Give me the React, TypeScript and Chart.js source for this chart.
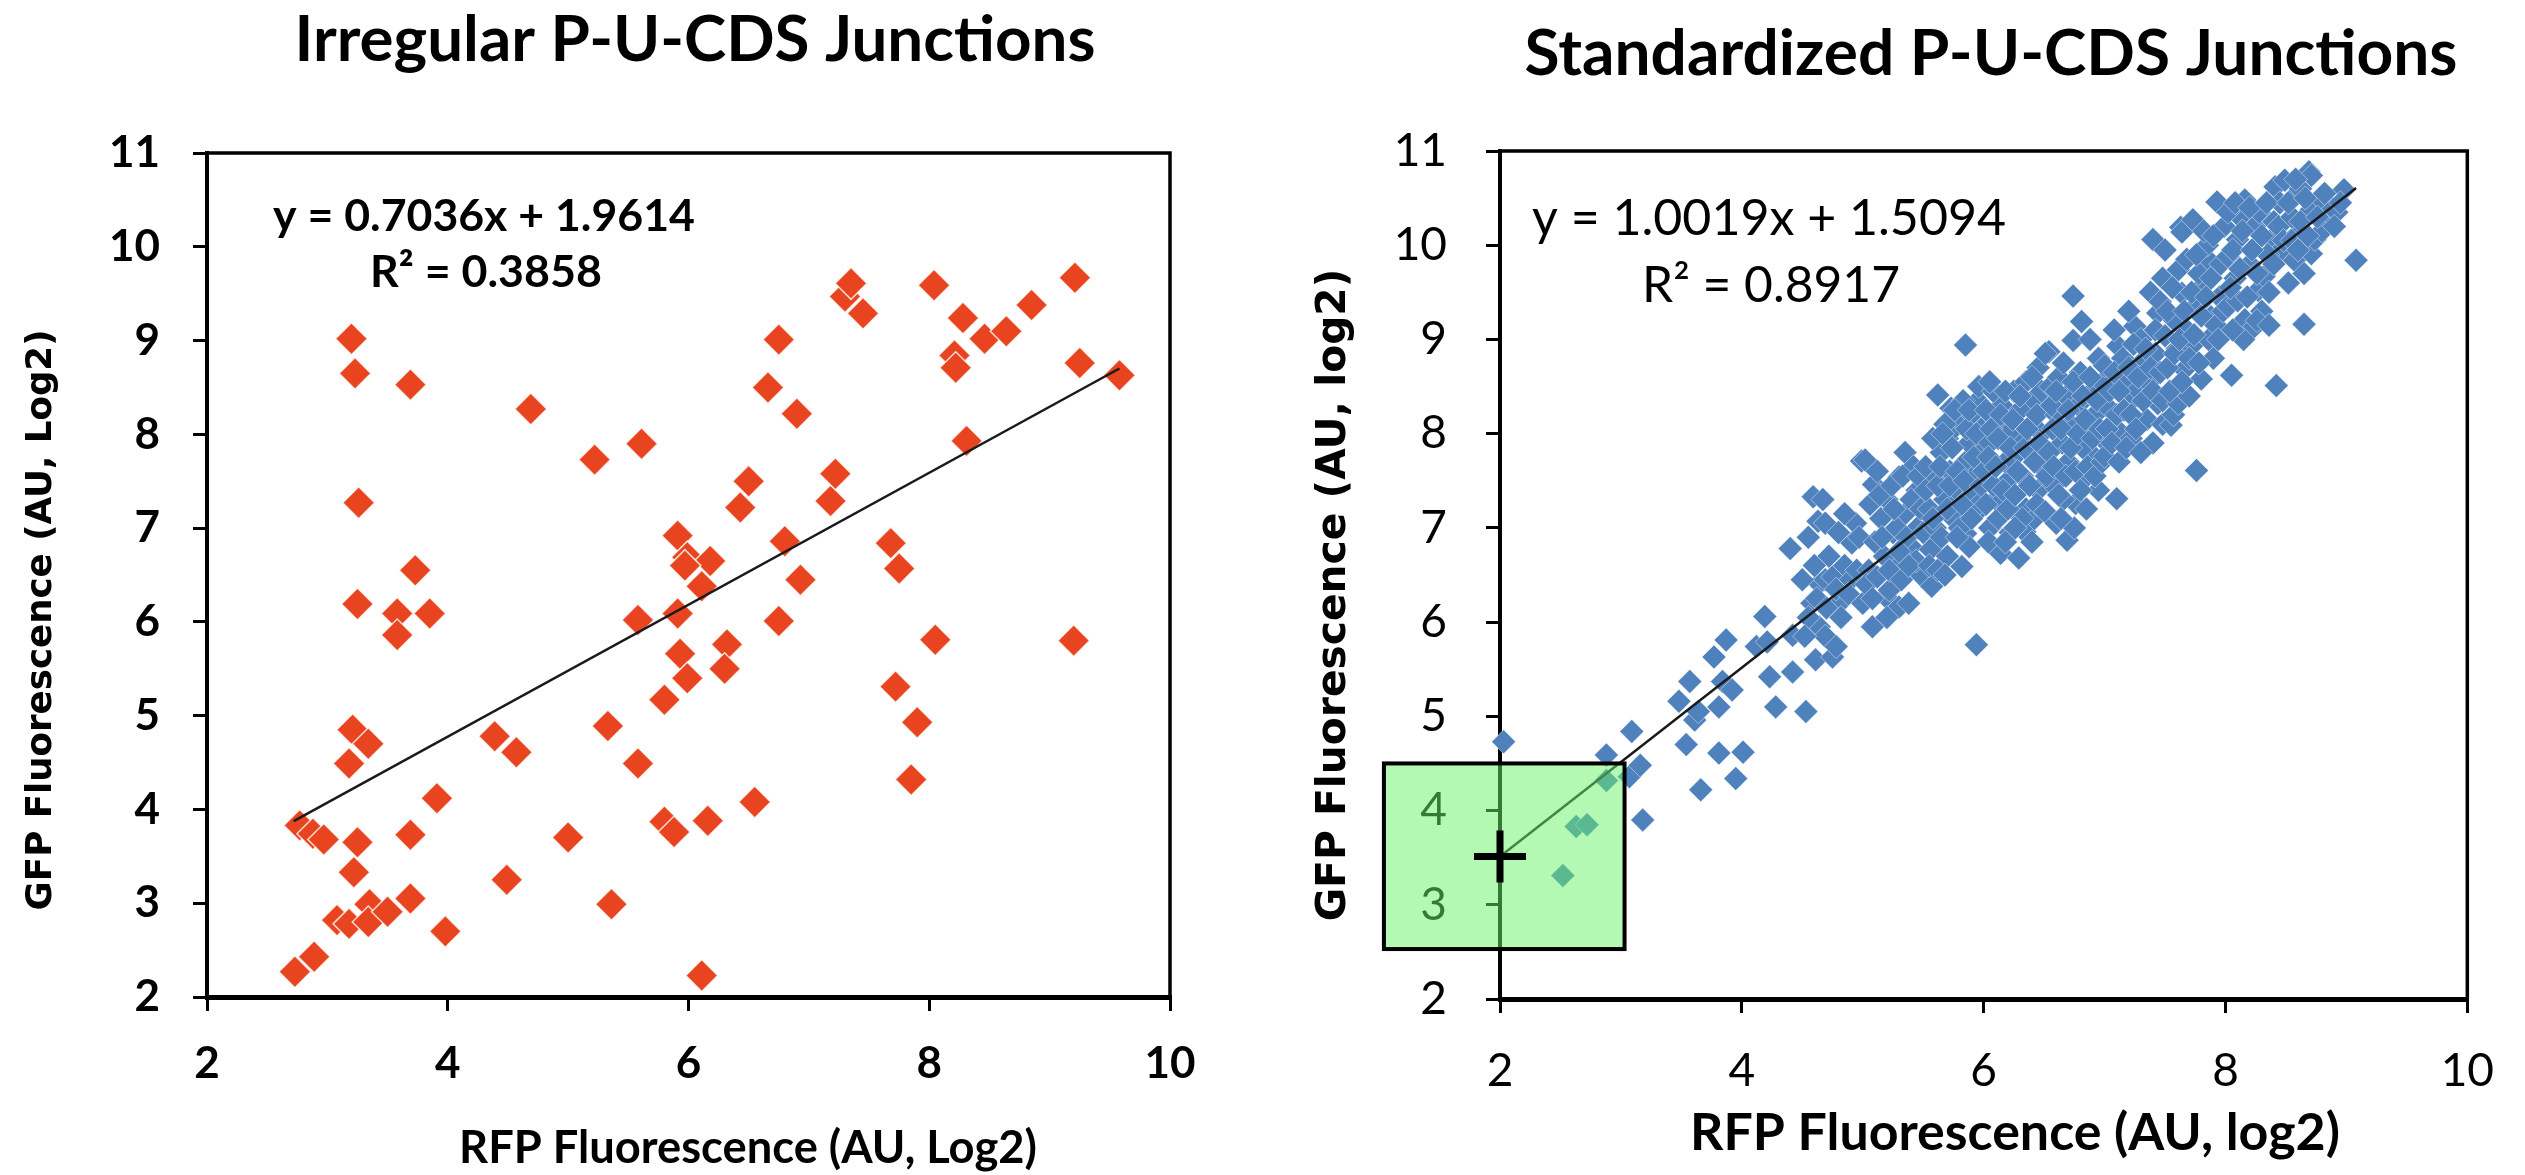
import { useEffect, useRef } from "react";
import { Chart, registerables } from "chart.js";

Chart.register(...registerables);

// ---------------- DATA ----------------
const xTickValues = [2, 4, 6, 8, 10];
const yTickValues = [2, 3, 4, 5, 6, 7, 8, 9, 10, 11];

const leftTitle = "Irregular P-U-CDS Junctions";
const rightTitle = "Standardized P-U-CDS Junctions";
const leftXTitle = "RFP Fluorescence (AU, Log2)";
const leftYTitle = "GFP Fluorescence (AU, Log2)";
const rightXTitle = "RFP Fluorescence (AU, log2)";
const rightYTitle = "GFP Fluorescence (AU, log2)";

const irregularSlope = 0.7036;
const irregularIntercept = 1.9614;
const irregularR2 = 0.3858;
const irregularFitRange = [2.72, 9.58];

const standardizedSlope = 1.0019;
const standardizedIntercept = 1.5094;
const standardizedR2 = 0.8917;
const standardizedFitRange = [2.0, 9.08];
const markerX = 2;
const highlightX = [1.04, 3.03];
const highlightY = [2.53, 4.5];

const irregularPoints: [number, number][] = [
  [3.20, 9.02], [3.23, 8.65], [3.69, 8.53], [4.69, 8.27], [5.22, 7.73], [5.61, 7.90], [3.26, 7.27],
  [5.91, 6.92], [5.99, 6.69], [6.18, 6.65], [5.97, 6.60], [6.11, 6.38], [6.43, 7.22], [6.50, 7.50],
  [6.66, 8.50], [6.75, 9.01], [6.90, 8.22], [6.80, 6.86], [6.93, 6.45], [7.18, 7.29], [7.22, 7.58],
  [7.30, 9.47], [7.35, 9.61], [7.45, 9.29], [7.68, 6.84], [7.75, 6.57], [8.04, 9.59], [8.21, 8.84],
  [8.22, 8.71], [8.28, 9.24], [8.31, 7.93], [8.46, 9.02], [8.64, 9.10], [8.85, 9.38], [9.21, 9.67],
  [9.25, 8.76], [9.58, 8.63],
  [3.73, 6.55], [3.25, 6.19], [3.58, 6.09], [3.58, 5.86], [3.85, 6.09], [5.58, 6.02], [5.91, 6.09],
  [6.75, 6.01], [5.93, 5.66], [5.99, 5.40], [6.32, 5.76], [6.30, 5.50], [8.05, 5.81], [9.20, 5.80],
  [5.80, 5.17], [7.72, 5.31], [7.90, 4.93], [5.33, 4.89], [5.58, 4.49], [4.39, 4.78], [4.57, 4.61],
  [3.21, 4.85], [3.34, 4.70], [3.18, 4.49], [7.85, 4.32], [3.91, 4.12], [6.55, 4.08], [6.16, 3.88],
  [5.80, 3.87], [5.88, 3.76], [2.77, 3.83], [2.88, 3.74], [2.97, 3.68], [3.25, 3.65], [3.69, 3.73],
  [5.00, 3.70], [3.22, 3.33], [4.49, 3.25], [3.69, 3.05], [5.36, 2.99], [3.35, 2.99], [3.08, 2.82],
  [3.18, 2.78], [3.34, 2.80], [3.50, 2.91], [3.98, 2.70], [2.89, 2.43], [2.73, 2.27], [6.11, 2.23],
];

const standardizedPoints: [number, number][] = [
  // x 2 - 3.2
  [2.03, 4.73], [2.52, 3.31], [2.63, 3.83], [2.72, 3.85], [2.88, 4.32], [2.88, 4.59], [3.07, 4.36],
  [3.09, 4.84], [3.16, 4.48], [3.18, 3.90],
  // x 3.4 - 4.1
  [3.48, 5.16], [3.54, 4.70], [3.57, 5.37], [3.61, 4.96], [3.64, 5.05], [3.66, 4.22], [3.77, 5.63],
  [3.81, 4.61], [3.81, 5.10], [3.84, 5.37], [3.87, 5.81], [3.92, 5.28], [3.95, 4.34], [4.01, 4.62],
  // x 4.1 - 5
  [4.12, 5.74], [4.19, 6.06], [4.21, 5.79], [4.23, 5.42], [4.28, 5.10], [4.42, 5.47], [4.42, 5.86],
  [4.53, 5.05], [4.61, 5.60], [4.64, 5.95], [4.69, 5.85], [4.75, 5.63], [4.78, 5.74], [4.64, 6.41],
  [4.83, 6.23], [4.69, 6.45], [4.59, 7.33], [4.63, 7.07], [4.40, 6.78], [4.67, 7.30], [4.69, 7.05],
  [4.75, 6.48], [4.91, 6.84], [4.94, 7.05], [5.00, 6.20], [4.99, 7.71], [4.58, 6.20], [4.50, 6.45],
  [4.85, 6.60], [4.80, 6.95], [4.55, 6.90], [4.90, 6.45],
  [4.55, 6.05], [4.62, 6.25], [4.70, 6.15], [4.78, 6.35], [4.82, 6.05], [4.88, 6.30], [4.95, 6.55],
  [4.72, 6.70], [4.60, 6.60], [4.97, 6.90], [4.85, 7.15], [4.52, 5.85],
  // x 5 - 5.5
  [5.02, 7.72], [5.09, 7.46], [5.08, 5.95], [5.19, 6.27], [5.22, 6.34], [5.27, 6.62], [5.30, 6.16],
  [5.30, 7.54], [5.38, 6.20], [5.05, 6.55], [5.10, 6.85], [5.15, 7.10], [5.20, 7.30], [5.25, 6.95],
  [5.35, 7.15], [5.40, 6.80], [5.45, 7.40], [5.12, 7.60], [5.48, 6.50], [5.35, 7.80], [5.42, 7.65],
  [5.28, 7.00], [5.18, 6.70], [5.45, 7.00],
  [5.03, 6.40], [5.08, 6.25], [5.12, 6.48], [5.16, 6.90], [5.22, 6.55], [5.26, 7.20], [5.32, 6.45],
  [5.36, 6.90], [5.40, 7.30], [5.44, 6.65], [5.48, 7.20], [5.50, 6.95], [5.06, 7.25], [5.14, 7.35],
  [5.24, 7.45], [5.33, 7.55], [5.46, 7.55], [5.38, 6.60], [5.20, 6.05], [5.30, 6.75],
  // x 5.5 - 6
  [5.57, 6.38], [5.56, 6.77], [5.62, 8.41], [5.73, 8.27], [5.82, 6.59], [5.85, 6.94], [5.85, 8.94],
  [5.93, 7.15], [5.94, 5.76], [5.55, 7.20], [5.60, 7.50], [5.65, 7.80], [5.70, 7.95], [5.75, 8.05],
  [5.80, 8.15], [5.90, 8.20], [5.95, 8.35], [5.60, 7.00], [5.68, 7.30], [5.72, 7.60], [5.78, 7.40],
  [5.85, 7.70], [5.88, 7.90], [5.92, 7.55], [5.98, 7.80], [5.65, 6.90], [5.75, 7.10], [5.90, 7.35],
  [5.52, 7.65], [5.58, 7.95], [5.68, 8.10], [5.83, 8.35], [5.98, 8.05], [5.96, 7.25], [5.70, 6.70],
  [5.88, 6.80],
  [5.52, 7.40], [5.55, 6.60], [5.58, 7.10], [5.62, 7.45], [5.64, 7.65], [5.66, 8.00], [5.70, 7.20],
  [5.72, 7.45], [5.74, 7.85], [5.76, 8.25], [5.78, 7.60], [5.80, 7.00], [5.82, 7.25], [5.84, 7.50],
  [5.86, 8.05], [5.88, 8.25], [5.90, 7.10], [5.92, 7.75], [5.94, 8.00], [5.96, 8.50], [5.98, 7.45],
  [5.62, 6.55], [5.78, 6.90], [5.68, 6.50],
  // x 6 - 6.5
  [6.14, 6.73], [6.29, 6.68], [6.34, 6.96], [6.05, 7.00], [6.10, 7.30], [6.20, 7.50], [6.25, 7.75],
  [6.30, 7.95], [6.40, 8.10], [6.45, 7.40], [6.35, 7.20], [6.00, 7.60], [6.05, 7.90], [6.10, 8.10],
  [6.15, 8.30], [6.20, 8.00], [6.25, 8.45], [6.35, 8.55], [6.40, 8.35], [6.45, 8.70], [6.48, 8.00],
  [6.02, 8.25], [6.08, 8.45], [6.18, 7.70], [6.32, 7.55], [6.38, 7.80], [6.12, 7.10], [6.22, 6.95],
  [6.42, 7.10], [6.30, 8.25], [6.48, 7.65], [6.05, 8.55], [6.40, 6.85],
  [6.02, 7.25], [6.04, 7.75], [6.06, 8.05], [6.08, 7.45], [6.10, 7.65], [6.12, 7.95], [6.14, 8.20],
  [6.16, 7.40], [6.18, 8.45], [6.20, 7.20], [6.22, 7.85], [6.24, 8.15], [6.26, 7.35], [6.28, 7.60],
  [6.30, 8.40], [6.32, 7.10], [6.34, 7.85], [6.36, 8.05], [6.38, 7.45], [6.40, 8.60], [6.42, 7.70],
  [6.44, 8.20], [6.46, 7.90], [6.48, 8.45], [6.04, 6.85], [6.26, 7.00], [6.44, 7.25], [6.18, 6.85],
  // x 6.5 - 7
  [6.51, 7.17], [6.54, 8.87], [6.69, 6.87], [6.74, 8.99], [6.74, 9.46], [6.76, 7.26], [6.81, 9.19],
  [6.84, 7.53], [6.51, 8.85], [6.55, 8.50], [6.60, 8.20], [6.65, 7.90], [6.70, 7.70], [6.58, 7.45],
  [6.62, 8.60], [6.68, 8.40], [6.72, 8.10], [6.78, 8.30], [6.80, 8.65], [6.85, 8.00], [6.90, 8.45],
  [6.95, 8.80], [6.88, 7.80], [6.92, 8.20], [6.98, 7.95], [6.60, 7.05], [6.75, 7.00], [6.95, 7.40],
  [6.57, 8.05], [6.82, 7.85], [6.98, 8.54], [6.66, 7.30], [6.88, 9.00],
  [6.52, 7.55], [6.54, 7.80], [6.56, 8.30], [6.58, 7.65], [6.60, 8.45], [6.62, 7.35], [6.64, 8.05],
  [6.66, 8.75], [6.68, 7.55], [6.70, 8.25], [6.72, 7.85], [6.74, 8.55], [6.76, 7.60], [6.78, 8.00],
  [6.80, 7.40], [6.82, 8.40], [6.84, 8.15], [6.86, 7.65], [6.88, 8.60], [6.90, 7.95], [6.92, 7.55],
  [6.94, 8.35], [6.96, 8.05], [6.98, 7.70], [6.64, 7.10], [6.85, 7.20],
  // x 7 - 7.5
  [7.00, 7.76], [7.00, 8.72], [7.10, 7.31], [7.11, 8.93], [7.12, 7.70], [7.14, 8.00], [7.25, 8.39],
  [7.25, 9.14], [7.27, 8.47], [7.31, 8.76], [7.36, 8.54], [7.40, 10.06], [7.44, 9.28], [7.44, 8.32],
  [7.05, 8.25], [7.08, 9.10], [7.18, 8.60], [7.20, 9.30], [7.22, 7.95], [7.30, 9.00], [7.35, 8.15],
  [7.38, 9.50], [7.42, 8.85], [7.48, 8.10], [7.48, 9.65], [7.40, 7.90], [7.15, 8.80],
  [7.02, 8.05], [7.04, 8.45], [7.06, 7.90], [7.08, 8.65], [7.10, 8.20], [7.12, 8.45], [7.16, 8.25],
  [7.18, 7.85], [7.20, 8.70], [7.22, 8.20], [7.24, 8.95], [7.26, 8.05], [7.28, 8.60], [7.32, 8.35],
  [7.34, 8.90], [7.38, 8.70], [7.40, 8.45], [7.42, 9.10], [7.46, 8.65], [7.48, 8.35], [7.30, 7.80],
  [7.46, 9.40],
  // x 7.5 - 8
  [7.50, 9.95], [7.50, 9.04], [7.55, 8.09], [7.57, 8.20], [7.61, 9.74], [7.61, 8.32], [7.63, 10.19],
  [7.64, 10.14], [7.64, 9.49], [7.66, 8.68], [7.72, 8.93], [7.73, 10.27], [7.75, 9.35], [7.76, 7.61],
  [7.80, 8.58], [7.83, 9.59], [7.86, 9.84], [7.86, 9.00], [7.88, 9.24], [7.93, 10.46], [7.99, 10.20],
  [7.58, 9.20], [7.68, 9.10], [7.70, 8.40], [7.78, 9.70], [7.90, 8.80], [7.95, 9.45], [7.52, 8.70],
  [7.85, 10.00], [7.92, 9.15], [7.60, 8.90],
  [7.52, 9.30], [7.54, 8.45], [7.56, 9.55], [7.58, 8.85], [7.62, 9.00], [7.64, 8.55], [7.66, 9.30],
  [7.68, 9.85], [7.70, 8.80], [7.72, 9.50], [7.74, 9.05], [7.76, 9.90], [7.78, 8.75], [7.80, 9.25],
  [7.82, 10.15], [7.84, 9.45], [7.88, 9.65], [7.90, 10.10], [7.94, 9.00], [7.96, 9.80], [7.98, 9.30],
  // x 8 - 8.5
  [8.02, 9.88], [8.02, 9.35], [8.05, 8.62], [8.10, 10.06], [8.10, 9.41], [8.16, 10.48], [8.16, 9.21],
  [8.21, 9.10], [8.24, 10.20], [8.27, 9.52], [8.32, 9.67], [8.38, 10.06], [8.41, 10.62], [8.42, 8.51],
  [8.46, 9.95], [8.49, 10.69], [8.08, 9.65], [8.12, 10.30], [8.20, 9.80], [8.28, 10.35], [8.35, 9.90],
  [8.40, 10.25], [8.15, 9.00], [8.30, 9.30], [8.45, 10.45], [8.06, 9.10],
  [8.02, 10.35], [8.04, 9.55], [8.06, 9.95], [8.08, 10.45], [8.12, 9.75], [8.14, 10.15], [8.18, 9.45],
  [8.20, 10.40], [8.22, 9.95], [8.26, 9.70], [8.30, 10.10], [8.34, 10.45], [8.36, 9.50], [8.40, 9.80],
  [8.44, 10.20], [8.48, 10.05], [8.26, 9.20], [8.36, 9.15],
  // x 8.5 - 9.1
  [8.57, 10.52], [8.57, 9.84], [8.60, 10.13], [8.65, 9.16], [8.69, 10.78], [8.71, 10.74], [8.71, 10.38],
  [8.71, 9.91], [8.74, 10.06], [8.85, 10.24], [8.87, 10.41], [8.98, 10.59], [9.08, 9.84], [8.55, 10.30],
  [8.62, 10.60], [8.78, 10.50], [8.80, 10.15], [8.92, 10.35], [8.65, 9.70], [8.52, 9.60],
  [8.52, 10.45], [8.55, 10.05], [8.58, 10.70], [8.62, 10.25], [8.66, 10.50], [8.68, 10.10], [8.76, 10.30],
  [8.82, 10.55], [8.90, 10.20], [8.95, 10.45], [8.60, 9.95],
];

// ---------------- STYLE ----------------
const W = 2525;
const H = 1175;
const CAL = "Lato, Carlito, Calibri, 'Noto Sans', sans-serif";
const WIDE = "'DejaVu Sans', Verdana, sans-serif";
const RED = "#E8441F";
const BLUE = "#4F81BD";

type TextSpec = {
  text: string;
  family: string;
  weight: string;
  cx: number;
  y: number;
  width: number;
  rotate?: boolean;
};

function drawFitText(ctx: CanvasRenderingContext2D, t: TextSpec) {
  ctx.save();
  ctx.font = `${t.weight} 100px ${t.family}`;
  const w = ctx.measureText(t.text).width;
  const size = (100 * t.width) / w;
  ctx.font = `${t.weight} ${size}px ${t.family}`;
  ctx.fillStyle = "#000";
  ctx.textAlign = "center";
  if (t.rotate) {
    ctx.translate(t.cx, t.y);
    ctx.rotate(-Math.PI / 2);
    ctx.textBaseline = "middle";
    ctx.fillText(t.text, 0, 0);
  } else {
    ctx.textBaseline = "alphabetic";
    ctx.fillText(t.text, t.cx, t.y);
  }
  ctx.restore();
}

function framePlugin(id: string) {
  return {
    id,
    beforeDatasetsDraw(chart: any) {
      const { ctx, chartArea: a } = chart;
      ctx.save();
      ctx.strokeStyle = "#000";
      ctx.lineWidth = 3.5;
      ctx.beginPath();
      ctx.moveTo(a.left, a.top);
      ctx.lineTo(a.right, a.top);
      ctx.lineTo(a.right, a.bottom);
      ctx.stroke();
      ctx.restore();
    },
  };
}

function textPlugin(id: string, specs: TextSpec[]) {
  return {
    id,
    afterDraw(chart: any) {
      for (const s of specs) drawFitText(chart.ctx, s);
    },
  };
}

function scales(bold: boolean, tickSize: number, yPad: number, xPad: number) {
  const font = { family: CAL, size: tickSize, weight: bold ? "bold" : "normal" } as any;
  const mkGrid = () => ({
    display: true,
    drawOnChartArea: false,
    drawTicks: true,
    tickLength: 14,
    lineWidth: 3,
    color: "#000",
  });
  return {
    x: {
      type: "linear",
      min: xTickValues[0],
      max: xTickValues[xTickValues.length - 1],
      afterBuildTicks: (s: any) => {
        s.ticks = xTickValues.map((v) => ({ value: v }));
      },
      afterFit: (s: any) => {
        s.height = 120;
      },
      ticks: { font, color: "#000", padding: xPad, maxRotation: 0, minRotation: 0, autoSkip: false },
      grid: mkGrid(),
      border: { display: true, width: 5, color: "#000" },
    },
    y: {
      type: "linear",
      min: yTickValues[0],
      max: yTickValues[yTickValues.length - 1],
      afterBuildTicks: (s: any) => {
        s.ticks = yTickValues.map((v) => ({ value: v }));
      },
      afterFit: (s: any) => {
        s.width = 150;
      },
      ticks: { font, color: "#000", padding: yPad, autoSkip: false },
      grid: mkGrid(),
      border: { display: true, width: 4, color: "#000" },
    },
  };
}

function fitLine(slope: number, intercept: number, range: number[]) {
  return range.map((x) => ({ x, y: slope * x + intercept }));
}

function leftConfig(): any {
  const texts: TextSpec[] = [
    { text: leftTitle, family: CAL, weight: "bold", cx: 695, y: 61, width: 801 },
    {
      text: `y = ${irregularSlope.toFixed(4)}x + ${irregularIntercept.toFixed(4)}`,
      family: CAL, weight: "bold", cx: 484, y: 231, width: 422,
    },
    { text: `R² = ${irregularR2.toFixed(4)}`, family: CAL, weight: "bold", cx: 486, y: 287, width: 232 },
    { text: leftXTitle, family: CAL, weight: "bold", cx: 748, y: 1163, width: 578 },
    { text: leftYTitle, family: WIDE, weight: "bold", cx: 42, y: 620, width: 581, rotate: true },
  ];
  return {
    type: "scatter",
    data: {
      datasets: [
        {
          type: "scatter",
          data: fitLine(irregularSlope, irregularIntercept, irregularFitRange),
          showLine: true,
          borderColor: "#1a1a1a",
          borderWidth: 2.5,
          pointRadius: 0,
          clip: false,
        },
        {
          data: irregularPoints.map(([x, y]) => ({ x, y })),
          pointStyle: "rectRot",
          pointRadius: 16,
          backgroundColor: RED,
          borderColor: "rgba(255,255,255,0.8)",
          borderWidth: 1.5,
          clip: false,
        },
      ],
    },
    options: {
      responsive: false,
      animation: false,
      events: [],
      devicePixelRatio: 1,
      layout: { padding: { left: 207 - 150, top: 153, right: W - 1170, bottom: H - 997 - 120 } },
      plugins: { legend: { display: false }, tooltip: { enabled: false }, title: { display: false } },
      scales: scales(true, 44, 33, 26),
    },
    plugins: [framePlugin("frameL"), textPlugin("textL", texts)],
  };
}

function rightConfig(): any {
  const texts: TextSpec[] = [
    { text: rightTitle, family: CAL, weight: "bold", cx: 1991, y: 75, width: 933 },
    {
      text: `y = ${standardizedSlope.toFixed(4)}x + ${standardizedIntercept.toFixed(4)}`,
      family: CAL, weight: "normal", cx: 1769, y: 235, width: 474,
    },
    { text: `R² = ${standardizedR2.toFixed(4)}`, family: CAL, weight: "normal", cx: 1771, y: 302, width: 258 },
    { text: rightXTitle, family: CAL, weight: "bold", cx: 2015, y: 1150, width: 650 },
    { text: rightYTitle, family: WIDE, weight: "bold", cx: 1334, y: 595, width: 653, rotate: true },
  ];
  const highlight = {
    id: "highlight",
    afterDatasetDraw(chart: any, args: any) {
      if (args.index !== 1) return;
      const { ctx } = chart;
      const xs = chart.scales.x;
      const ys = chart.scales.y;
      const x1 = xs.getPixelForValue(highlightX[0]);
      const x2 = xs.getPixelForValue(highlightX[1]);
      const y1 = ys.getPixelForValue(highlightY[1]);
      const y2 = ys.getPixelForValue(highlightY[0]);
      ctx.save();
      ctx.fillStyle = "rgba(103,241,103,0.5)";
      ctx.fillRect(x1, y1, x2 - x1, y2 - y1);
      ctx.strokeStyle = "#000";
      ctx.lineWidth = 4;
      ctx.strokeRect(x1, y1, x2 - x1, y2 - y1);
      ctx.restore();
    },
  };
  return {
    type: "scatter",
    data: {
      datasets: [
        {
          data: [{ x: markerX, y: standardizedSlope * markerX + standardizedIntercept }],
          pointStyle: "cross",
          pointRadius: 26,
          borderColor: "#000",
          borderWidth: 7,
          clip: false,
        },
        {
          type: "scatter",
          data: fitLine(standardizedSlope, standardizedIntercept, standardizedFitRange),
          showLine: true,
          borderColor: "#1a1a1a",
          borderWidth: 2.5,
          pointRadius: 0,
          clip: false,
        },
        {
          data: standardizedPoints.map(([x, y]) => ({ x, y })),
          pointStyle: "rectRot",
          pointRadius: 12,
          backgroundColor: BLUE,
          borderColor: "rgba(255,255,255,0.45)",
          borderWidth: 1,
          clip: false,
        },
      ],
    },
    options: {
      responsive: false,
      animation: false,
      events: [],
      devicePixelRatio: 1,
      layout: { padding: { left: 1500 - 150, top: 151, right: W - 2470, bottom: H - 999 - 120 } },
      plugins: { legend: { display: false }, tooltip: { enabled: false }, title: { display: false } },
      scales: scales(false, 46, 39, 31),
    },
    plugins: [framePlugin("frameR"), highlight, textPlugin("textR", texts)],
  };
}

export default function App() {
  const leftRef = useRef<HTMLCanvasElement>(null);
  const rightRef = useRef<HTMLCanvasElement>(null);
  useEffect(() => {
    const c1 = new Chart(leftRef.current as HTMLCanvasElement, leftConfig());
    const c2 = new Chart(rightRef.current as HTMLCanvasElement, rightConfig());
    return () => {
      c1.destroy();
      c2.destroy();
    };
  }, []);
  return (
    <div style={{ position: "absolute", left: 0, top: 0, width: W, height: H, background: "#fff" }}>
      <canvas ref={leftRef} width={W} height={H} style={{ position: "absolute", left: 0, top: 0 }} />
      <canvas ref={rightRef} width={W} height={H} style={{ position: "absolute", left: 0, top: 0 }} />
    </div>
  );
}
